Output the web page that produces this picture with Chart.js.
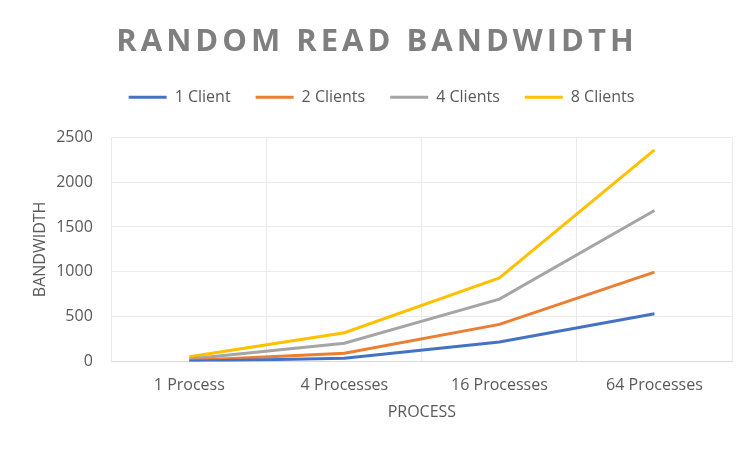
<!DOCTYPE html>
<html>
<head>
<meta charset="utf-8">
<script src="https://cdn.jsdelivr.net/npm/chart.js@4.4.1/dist/chart.umd.min.js"></script>
<style>
  html, body { margin: 0; padding: 0; background: #fff; }
  #wrap { width: 750px; height: 449px; }
</style>
</head>
<body>
<div id="wrap"><canvas id="myChart"></canvas></div>
<script>
const TITLE = 'RANDOM READ BANDWIDTH';
const processes = ['1 Process', '4 Processes', '16 Processes', '64 Processes'];
const yTicks = [0, 500, 1000, 1500, 2000, 2500];

const oneClient = [5, 37, 219, 533];
const twoClients = [11, 93, 415, 996];
const fourClients = [30, 204, 696, 1684];
const eightClients = [55, 322, 933, 2358];

const TEXT = '#595959';
const GRID = '#ebebeb';
const FONT = '"Open Sans", sans-serif';
const LEGEND_GAP = 22;

// Excel-style title has wide letter spacing, chart.js title can't do that.
// Also the legend sits further from the plot than its padding allows.
const excelLook = {
    id: 'excelLook',
    beforeInit(chart) {
        const legend = chart.legend;
        const fit = legend.fit;
        legend.fit = function () {
            fit.call(this);
            this.height += LEGEND_GAP;
        };
    },
    afterDraw(chart) {
        const t = chart.titleBlock;
        const ctx = chart.ctx;
        ctx.save();
        ctx.font = 'bold 31px ' + FONT;
        ctx.letterSpacing = '4px';
        ctx.fillStyle = '#7f7f7f';
        ctx.textAlign = 'center';
        ctx.textBaseline = 'middle';
        ctx.fillText(TITLE, chart.width / 2 + 2, (t.top + t.bottom) / 2 + 6);
        ctx.restore();
    }
};

function line(label, data, color) {
    return {
        label: label,
        data: data,
        borderColor: color,
        backgroundColor: color,
        borderWidth: 3,
        pointRadius: 0,
        tension: 0
    };
}

new Chart(document.getElementById('myChart'), {
    type: 'line',
    data: {
        labels: processes,
        datasets: [
            line('1 Client', oneClient, '#4472C4'),
            line('2 Clients', twoClients, '#ED7D31'),
            line('4 Clients', fourClients, '#A5A5A5'),
            line('8 Clients', eightClients, '#FFC000')
        ]
    },
    options: {
        responsive: true,
        maintainAspectRatio: false,
        animation: false,
        layout: { padding: { top: 8, right: 18, bottom: 27, left: 31 } },
        plugins: {
            title: {
                display: true,
                text: TITLE,
                color: 'rgba(0,0,0,0)',
                font: { family: FONT, size: 31, weight: 'bold' },
                padding: { top: 15, bottom: 4 }
            },
            legend: {
                position: 'top',
                labels: {
                    color: TEXT,
                    font: { family: FONT, size: 16 },
                    usePointStyle: true,
                    pointStyle: 'line',
                    pointStyleWidth: 38,
                    boxHeight: 16,
                    padding: 25
                }
            },
            tooltip: { enabled: false }
        },
        scales: {
            x: {
                offset: true,
                grid: { offset: true, color: GRID, drawTicks: false },
                border: { color: '#d9d9d9' },
                ticks: { color: TEXT, font: { family: FONT, size: 16 }, padding: 14 },
                title: {
                    display: true,
                    text: 'PROCESS',
                    color: TEXT,
                    font: { family: FONT, size: 16 },
                    padding: { top: -6, bottom: 0 }
                }
            },
            y: {
                min: yTicks[0],
                max: yTicks[yTicks.length - 1],
                afterBuildTicks: axis => { axis.ticks = yTicks.map(v => ({ value: v })); },
                grid: { color: GRID, drawTicks: false },
                border: { display: false },
                ticks: {
                    color: TEXT,
                    font: { family: FONT, size: 16 },
                    padding: 19,
                    callback: v => String(v)
                },
                title: {
                    display: true,
                    text: 'BANDWIDTH',
                    color: TEXT,
                    font: { family: FONT, size: 16 },
                    padding: { top: 0, bottom: -13 }
                }
            }
        }
    },
    plugins: [excelLook]
});
</script>
</body>
</html>
